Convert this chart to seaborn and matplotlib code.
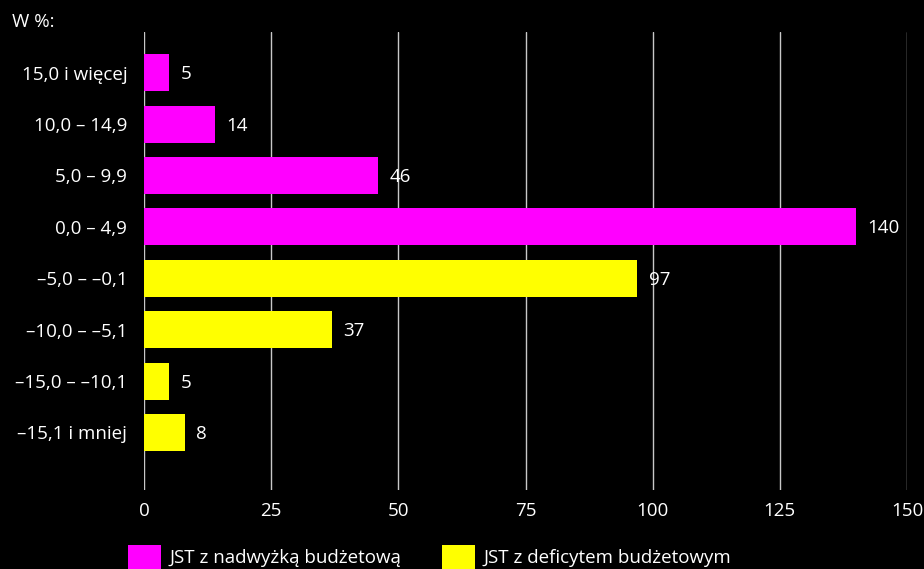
import matplotlib
matplotlib.use("Agg")
import matplotlib.pyplot as plt
import seaborn as sns
import pandas as pd
from matplotlib.patches import Patch

categories = ["15,0 i więcej", "10,0 – 14,9", "5,0 – 9,9", "0,0 – 4,9",
              "–5,0 – –0,1", "–10,0 – –5,1", "–15,0 – –10,1", "–15,1 i mniej"]
values = [5, 14, 46, 140, 97, 37, 5, 8]
groups = ["JST z nadwyżką budżetową"] * 4 + ["JST z deficytem budżetowym"] * 4
group_names = ["JST z nadwyżką budżetową", "JST z deficytem budżetowym"]
colors = ["#ff00ff", "#ffff00"]
x_ticks = [0, 25, 50, 75, 100, 125, 150]

df = pd.DataFrame({"cat": categories, "val": values, "grp": groups})

sns.set_theme(style="dark")
plt.rcParams['font.family'] = ['Open Sans', 'DejaVu Sans']

FS = 13.5
fig = plt.figure(figsize=(9.24, 5.69), dpi=100, facecolor="black")
ax = fig.add_axes([144/924, 1-490/569, (907-144)/924, (490-32)/569])
ax.set_facecolor("black")

sns.barplot(data=df, y="cat", x="val", hue="grp", hue_order=group_names,
            palette=colors, dodge=False, width=0.72, ax=ax, legend=False,
            saturation=1, order=categories, linewidth=0, edgecolor="none")

ax.set_xlim(0, 150)
ax.set_ylim(7 + 1.12, -0.79)
ax.set_xticks(x_ticks)
ax.set_xticklabels([str(t) for t in x_ticks], color="white", fontsize=FS)
ax.tick_params(axis="x", length=0, pad=9)
ax.tick_params(axis="y", length=0, pad=12, labelsize=FS, labelcolor="white")
ax.set_xlabel("")
ax.set_ylabel("")
for s in ax.spines.values():
    s.set_visible(False)
ax.grid(axis="x", color="#c8c8c8", linewidth=1)
ax.grid(axis="y", visible=False)
ax.set_axisbelow(True)

for i, v in enumerate(values):
    ax.text(v + 2.2, i + 0.03, str(v), color="white", va="center", ha="left", fontsize=FS)

fig.text(12/924, 1-22/569, "W %:", color="white", fontsize=FS, va="center", ha="left")

handles = [Patch(facecolor=c, edgecolor="none") for c in colors]
leg = fig.legend(handles, group_names, loc="lower left", bbox_to_anchor=(111/924, -0.03),
                 ncol=2, frameon=False, fontsize=FS, handlelength=1.75, handleheight=1.6,
                 columnspacing=2.2, handletextpad=0.45)
for t in leg.get_texts():
    t.set_color("white")

fig.savefig("out.png", dpi=100, facecolor="black")
